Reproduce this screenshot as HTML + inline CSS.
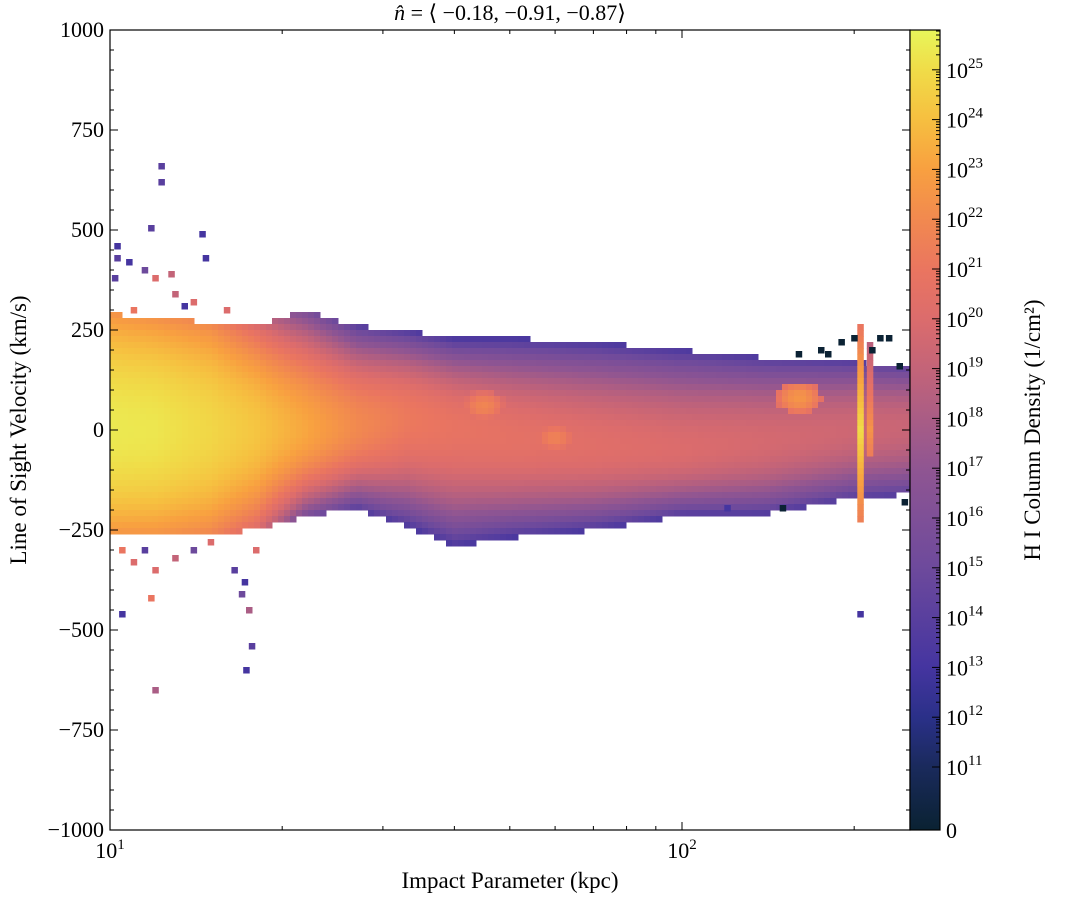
<!DOCTYPE html>
<html><head><meta charset="utf-8">
<style>
html,body{margin:0;padding:0;background:#fff;}
svg{display:block;font-family:"Liberation Serif","DejaVu Serif",serif;}
</style></head>
<body>
<svg id="chart" width="1075" height="920" viewBox="0 0 1075 920" xmlns="http://www.w3.org/2000/svg">
<defs>
<linearGradient id="cmap" x1="0" y1="1" x2="0" y2="0">
<stop offset="0" stop-color="#0a2232"/>
<stop offset="0.079" stop-color="#1a2a5c"/>
<stop offset="0.14" stop-color="#2a3088"/>
<stop offset="0.204" stop-color="#4535a0"/>
<stop offset="0.33" stop-color="#6e4a9c"/>
<stop offset="0.45" stop-color="#8f5592"/>
<stop offset="0.578" stop-color="#c46478"/>
<stop offset="0.64" stop-color="#dc6c6c"/>
<stop offset="0.70" stop-color="#ea7560"/>
<stop offset="0.76" stop-color="#f18850"/>
<stop offset="0.826" stop-color="#f8a040"/>
<stop offset="0.89" stop-color="#f6c040"/>
<stop offset="0.95" stop-color="#f0dc48"/>
<stop offset="1" stop-color="#e8f65a"/>
</linearGradient>
</defs>
<g id="cells"></g>
<rect x="110" y="30" width="800" height="800" fill="none" stroke="#000" stroke-width="1.2"/>
<g id="axes"></g>
<rect x="910" y="30" width="30" height="800" fill="url(#cmap)" stroke="#000" stroke-width="1.2"/>
<g id="cbar"></g>
<text x="510" y="20" font-size="22" text-anchor="middle"><tspan font-style="italic">n̂</tspan> = ⟨ −0.18, −0.91, −0.87⟩</text>
<text x="510" y="888" font-size="23" text-anchor="middle">Impact Parameter (kpc)</text>
<text transform="translate(26,430) rotate(-90)" font-size="23" text-anchor="middle">Line of Sight Velocity (km/s)</text>
<text transform="translate(1040,430) rotate(-90)" font-size="23" text-anchor="middle">H I Column Density  (1/cm²)</text>
</svg>
<script>
// ---- data ----
const anchorKpc = [10,12,15,18,22,27,33,40,50,70,100,140,200,250];
const vTop     = [290,280,270,260,300,260,250,230,230,220,200,180,170,160];
const vBot     = [-260,-265,-260,-250,-215,-195,-240,-290,-270,-250,-215,-210,-170,-160];
const vCenter  = [0,0,0,0,0,10,30,10,-20,-40,-50,-30,0,10];
const coreLog  = [25.4,25.3,24.8,24.2,23.2,22.0,21.2,20.8,20.6,20.3,20.0,19.7,19.4,19.2];
const edgeLog  = [22.5,22.3,21.8,20,15.5,14,13.4,13.2,13.2,13.3,13.4,13.6,13.8,14];
const blobKpc = [160, 60, 45];
const blobV   = [80, -20, 60];
const blobLog = [22.5, 21.6, 21.8];
const stripeKpc = [205, 213];
const stripeTop = [260, 220];
const stripeBot = [-230, -60];
const stripeLog = [25, 22.5];
const outKpc = [12.3,12.3,11.8,14.5,14.7,10.3,10.5,12,11.8,17.3,17.7,17.5,17,17.2,205,10.3,10.8,11.5,12,12.8,13.5,10.2,11,13,14,16,10.5,11,11.5,12,13,14,15,16.5,18,160,175,190,215,230,240,245,150,120,180,200,222];
const outV   = [660,620,505,490,430,460,-460,-650,-420,-600,-540,-450,-410,-380,-460,430,420,400,380,390,310,380,300,340,320,300,-300,-330,-300,-350,-320,-300,-280,-350,-300,190,200,220,200,230,160,-180,-195,-195,190,230,230];
const outLog = [14,14,14,13,13,13,13,18,21,13,14,18,15,13,13,14,13,15,20,19,13,14,21,19,20,20,21,20,14,20,19,15,20,14,20,0.5,0.5,0.5,0.5,0.5,0.5,0.5,0.5,13,0.5,0.5,0.5];
const cbLabels = ["0","10","10","10","10","10","10","10","10","10","10","10","10","10","10","10"];
const cbExps   = ["",  "11","12","13","14","15","16","17","18","19","20","21","22","23","24","25"];
const cbVals   = [0,11,12,13,14,15,16,17,18,19,20,21,22,23,24,25];
const yTicks = [-1000,-750,-500,-250,0,250,500,750,1000];
const xTicks = [10,100];
// ---- scales ----
const X0=110,X1=910,Y0=30,Y1=830;
const lx0=1, lx1=Math.log10(250.4);
const xs = k => X0+(Math.log10(k)-lx0)/(lx1-lx0)*(X1-X0);
const xinv = px => Math.pow(10, lx0+(px-X0)/(X1-X0)*(lx1-lx0));
const ys = v => Y1-(v+1000)/2000*(Y1-Y0);
const yinv = py => (Y1-py)/(Y1-Y0)*2000-1000;
const cby = L => L>=11 ? 767-(L-11)*49.8 : 830-L*(63/11);
const stops=[[0,"#0a2232"],[0.079,"#1a2a5c"],[0.14,"#2a3088"],[0.204,"#4535a0"],[0.33,"#6e4a9c"],[0.45,"#8f5592"],[0.578,"#c46478"],[0.64,"#dc6c6c"],[0.70,"#ea7560"],[0.76,"#f18850"],[0.826,"#f8a040"],[0.89,"#f6c040"],[0.95,"#f0dc48"],[1,"#e8f65a"]];
function hex(h){return [1,3,5].map(i=>parseInt(h.substr(i,2),16));}
function cmap(L){
  let f=(830-cby(L))/800; f=Math.max(0,Math.min(1,f));
  for(let i=1;i<stops.length;i++){ if(f<=stops[i][0]){ const a=hex(stops[i-1][1]),b=hex(stops[i][1]); const t=(f-stops[i-1][0])/(stops[i][0]-stops[i-1][0]); return "rgb("+a.map((c,j)=>Math.round(c+(b[j]-c)*t)).join(",")+")"; } }
  return stops[stops.length-1][1];
}
function interp(arr,k){
  const l=Math.log10(k);
  if(k<=anchorKpc[0]) return arr[0];
  for(let i=1;i<anchorKpc.length;i++){ if(k<=anchorKpc[i]){ const a=Math.log10(anchorKpc[i-1]),b=Math.log10(anchorKpc[i]); const t=(l-a)/(b-a); return arr[i-1]+(arr[i]-arr[i-1])*t; } }
  return arr[arr.length-1];
}
const NS="http://www.w3.org/2000/svg";
const gc=document.getElementById('cells');
function cell(x,y,w,h,L){
  const r=document.createElementNS(NS,'rect');
  
  
  r.setAttribute('x',x.toFixed(1)); r.setAttribute('y',y.toFixed(1));
  r.setAttribute('width',w+0.5); r.setAttribute('height',h+0.5);
  r.setAttribute('fill',cmap(L)); gc.appendChild(r);
}
const CW=6, CH=6;
for(let px=X0; px<X1; px+=CW){
  const k=xinv(px+CW/2);
  const top=interp(vTop,k), bot=interp(vBot,k), c=interp(vCenter,k);
  const core=interp(coreLog,k), edge=interp(edgeLog,k);
  for(let py=Y0; py<Y1; py+=CH){
    const v=yinv(py+CH/2);
    if(v>top||v<bot) continue;
    const t = v>=c ? (v-c)/(top-c) : (c-v)/(c-bot);
    let L = edge+(core-edge)*Math.pow(Math.max(0,1-t*t),0.9);
    for(let b=0;b<blobKpc.length;b++){
      const dx=(Math.log10(k)-Math.log10(blobKpc[b]))/0.04, dv=(v-blobV[b])/40;
      const d=dx*dx+dv*dv; if(d<1) L=Math.max(L, blobLog[b]-(d)*2);
    }
    cell(px,py,Math.min(CW,X1-px),CH,L);
  }
}
for(let s=0;s<stripeKpc.length;s++){
  const px=xs(stripeKpc[s]);
  for(let py=Y0; py<Y1; py+=CH){
    const v=yinv(py+CH/2);
    if(v>stripeTop[s]||v<stripeBot[s]) continue;
    const t=Math.abs(v)/Math.max(stripeTop[s],-stripeBot[s]);
    cell(px-3,py,CW,CH,stripeLog[s]-t*4);
  }
}
for(let i=0;i<outKpc.length;i++){
  cell(xs(outKpc[i])-3, ys(outV[i])-3, CW, CH, outLog[i]);
}
// ---- axes ----
const ga=document.getElementById('axes');
function line(g,x1,y1,x2,y2,name){
  const l=document.createElementNS(NS,'line');
  
  
  l.setAttribute('x1',x1);l.setAttribute('y1',y1);l.setAttribute('x2',x2);l.setAttribute('y2',y2);
  l.setAttribute('stroke','#000');l.setAttribute('stroke-width','1');g.appendChild(l);
}
function text(g,x,y,s,anchor,size,name){
  const t=document.createElementNS(NS,'text');
  
  
  t.setAttribute('x',x);t.setAttribute('y',y);t.setAttribute('text-anchor',anchor);t.setAttribute('font-size',size);
  t.textContent=s;g.appendChild(t);return t;
}
for(let v=-1000; v<=1000; v+=50){
  const y=ys(v), major=(v%250===0), len=major?8:4;
  line(ga,X0,y,X0+len,y,'y-tick'); line(ga,X1-len,y,X1,y,'y-tick');
}
yTicks.forEach(v=>{ text(ga,104,ys(v)+7,v<0?"−"+(-v):String(v),'end',22,'y-tick-label'); });
for(let d=10; d<=200; d*=10){
  for(let m=1;m<10;m++){ const k=d*m; if(k>250) break; const x=xs(k); const len=m===1?8:4;
    line(ga,x,Y1,x,Y1-len,'x-tick'); line(ga,x,Y0,x,Y0+len,'x-tick'); }
}
xTicks.forEach(k=>{
  const t=text(ga,xs(k),858,"10",'middle',22,'x-tick-label');
  const s=document.createElementNS(NS,'tspan'); s.setAttribute('dy','-9'); s.setAttribute('font-size','15');
  s.textContent=(k===10?"1":"2"); t.appendChild(s);
});
// ---- colorbar ticks ----
const gb=document.getElementById('cbar');
for(let i=0;i<cbVals.length;i++){
  const y=cby(cbVals[i]);
  line(gb,932,y,940,y,'colorbar-tick');
  const t=text(gb,946,y+8,cbLabels[i],'start',22,'colorbar-tick-label');
  if(cbExps[i]){ const s=document.createElementNS(NS,'tspan'); s.setAttribute('dy','-10'); s.setAttribute('font-size','15'); s.textContent=cbExps[i]; t.appendChild(s); }
}
for(let L=11; L<26; L++){ for(let m=2;m<10;m++){ const y=cby(L+Math.log10(m)); if(y<30) continue; line(gb,936,y,940,y,'colorbar-minor-tick'); } }
</script>
</body></html>
